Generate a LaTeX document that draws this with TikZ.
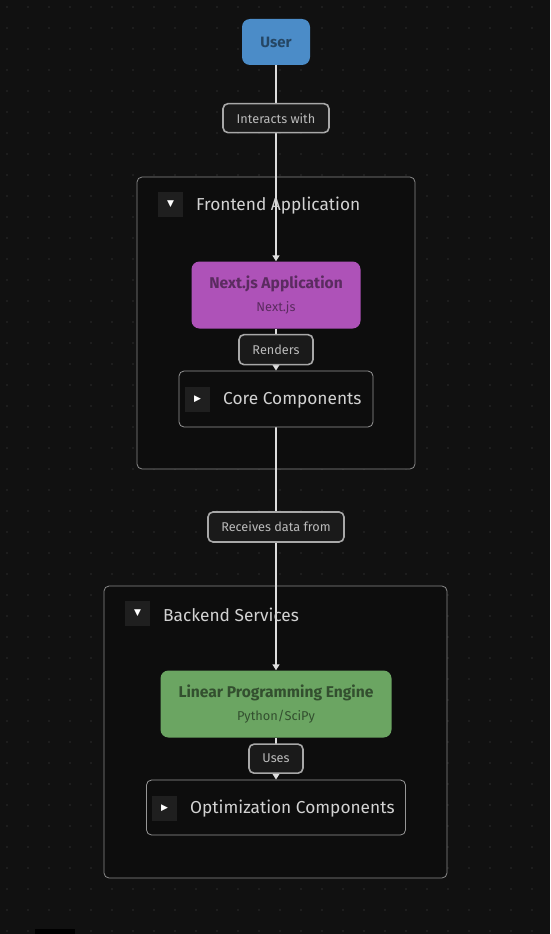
\documentclass[tikz,border=0pt]{standalone}
\usepackage{fontspec}
\setmainfont{Fira Sans}
\newfontfamily\symfont{DejaVu Sans}
\usetikzlibrary{positioning, arrows.meta, backgrounds}
\definecolor{cBack}     {HTML}{111111}
\definecolor{cDot}      {HTML}{4A4A4A}
\definecolor{cGroupFill}{HTML}{0D0D0D}
\definecolor{cGroupLine}{HTML}{8A8A8A}
\definecolor{cToggle}   {HTML}{1F1F1F}
\definecolor{cTitle}    {HTML}{D2D2D2}
\definecolor{cEdge}     {HTML}{DDDDDD}
\definecolor{cLblFill}  {HTML}{1A1A1A}
\definecolor{cLblLine}  {HTML}{A8A8A8}
\definecolor{cLblText}  {HTML}{BBBBBB}
\definecolor{cUser}     {HTML}{4B8CC8}
\definecolor{cNext}     {HTML}{AE52B8}
\definecolor{cEngine}   {HTML}{6BA562}
\newcommand{\subtextfont}{\mdseries\fontsize{12.8}{15}\selectfont}
\pgfdeclarelayer{bg}
\pgfdeclarelayer{edges}
\pgfsetlayers{bg,edges,main}
\tikzset{
  groupbox/.style={draw=cGroupLine, fill=cGroupFill, line width=0.8pt, rounded corners=5pt, inner sep=0pt},
  subbox/.style={draw=cGroupLine!90!white, fill=cGroupFill, line width=0.8pt, rounded corners=5pt, inner sep=0pt},
  toggle/.style={fill=cToggle, minimum size=25pt, inner sep=0pt, text=white, font=\symfont\fontsize{9}{9}\selectfont},
  grouptitle/.style={anchor=west, inner sep=0pt, text=cTitle, font=\fontsize{17.3}{20}\selectfont},
  tech/.style={rounded corners=8pt, inner sep=0pt, align=center, font=\bfseries\fontsize{15.6}{18}\selectfont},
  flow/.style={draw=cEdge, line width=1.6pt, -{Triangle[width=7pt,length=6pt]}},
  edgelabel/.style={draw=cLblLine, fill=cLblFill, line width=1.6pt, rounded corners=5pt, inner sep=0pt,
    text=cLblText, font=\fontsize{12.7}{15}\selectfont},
}
\begin{document}
\begin{tikzpicture}[x=1pt, y=-1pt]
  \useasboundingbox (0,0) rectangle (550,934);
  % background with dot grid
  \begin{pgfonlayer}{bg}
    \fill[cBack] (0,0) rectangle (550,934);
    \foreach \i in {0,...,26}{
      \foreach \j in {0,...,44}{
        \fill[cDot] (7+\i*21, 7+\j*21) circle (0.6pt);
      }
    }
    \fill[black] (35,929) rectangle (75,934);
    % groups
    \node[groupbox, minimum width=278pt, minimum height=292pt] (frontend) at (276,323) {};
    \node[groupbox, minimum width=343pt, minimum height=292pt] (backend) at (275.5,732) {};
  \end{pgfonlayer}
  % group headers
  \node[toggle] (feToggle) at (170.5,204.5) {▼};
  \node[grouptitle] (feTitle) at (196,206) {Frontend Application};
  \node[toggle] (beToggle) at (137.5,613.5) {▼};
  \node[grouptitle] (beTitle) at (163,615) {Backend Services};
  % nodes
  \node[tech, fill=cUser, text=cUser!50!black, minimum width=68pt, minimum height=46pt,
        font=\bfseries\fontsize{15}{17}\selectfont] (user) at (276,42) {User};
  \node[tech, fill=cNext, text=cNext!52!black, minimum width=169pt, minimum height=67pt]
        (nextjs) at (276,295) {Next.js Application\\[5pt]{\subtextfont Next.js}};
  \node[subbox, minimum width=194pt, minimum height=56pt] (core) at (276,399) {};
  \node[toggle] (coreToggle) at (197.5,399) {▶};
  \node[grouptitle] (coreTitle) at (223,400) {Core Components};
  \node[tech, fill=cEngine, text=cEngine!48!black, minimum width=231pt, minimum height=67pt]
        (engine) at (276,704) {Linear Programming Engine\\[5pt]{\subtextfont Python/SciPy}};
  \node[subbox, minimum width=259pt, minimum height=55pt] (optim) at (276,807.5) {};
  \node[toggle] (optToggle) at (164.5,808) {▶};
  \node[grouptitle] (optTitle) at (190,809) {Optimization Components};
  % connectors
  \begin{pgfonlayer}{edges}
    \draw[flow] (user) -- node[pos=0.27, edgelabel, minimum width=106pt, minimum height=29pt] (lblInteract) {Interacts with} (nextjs);
    \draw[flow] (nextjs) -- node[edgelabel, minimum width=74pt, minimum height=30pt] (lblRenders) {Renders} (core);
    \draw[flow] (core) -- node[pos=0.41, edgelabel, minimum width=136pt, minimum height=30pt] (lblReceives) {Receives data from} (engine);
    \draw[flow] (engine) -- node[edgelabel, minimum width=54pt, minimum height=29pt] (lblUses) {Uses} (optim);
  \end{pgfonlayer}
\end{tikzpicture}
\end{document}
